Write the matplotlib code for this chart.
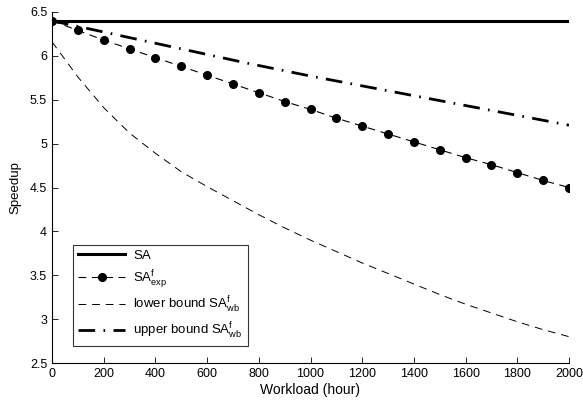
import numpy as np
import matplotlib
matplotlib.use('Agg')
import matplotlib.pyplot as plt

plt.rcParams['font.family'] = ['Liberation Sans', 'DejaVu Sans']
plt.rcParams['mathtext.default'] = 'regular'
plt.rcParams['font.size'] = 9

# workload (hour)
workload = [0, 100, 200, 300, 400, 500, 600, 700, 800, 900, 1000,
            1100, 1200, 1300, 1400, 1500, 1600, 1700, 1800, 1900, 2000]

sa = [6.40] * len(workload)

sa_exp = [6.40, 6.29, 6.18, 6.08, 5.98, 5.88, 5.78, 5.68, 5.58, 5.48, 5.39,
          5.29, 5.20, 5.11, 5.02, 4.93, 4.84, 4.76, 4.67, 4.58, 4.50]

lower_wb = [6.16, 5.76, 5.41, 5.12, 4.89, 4.68, 4.51, 4.35, 4.19, 4.04, 3.90,
            3.77, 3.64, 3.52, 3.40, 3.28, 3.17, 3.07, 2.97, 2.88, 2.80]

upper_x = [0, 250, 500, 750, 1000, 1250, 1500, 1750, 2000]
upper_wb = [6.40, 6.24, 6.08, 5.92, 5.77, 5.63, 5.49, 5.35, 5.21]

fig = plt.figure(figsize=(5.83, 4.03), dpi=100)
ax = fig.add_axes([52 / 583, 1 - 363 / 403, 517 / 583, 351 / 403])

ax.plot(workload, sa, color='k', lw=2.2, label='SA')
ax.plot(workload, sa_exp, color='k', lw=0.8, ls=(0, (7, 5)), marker='o',
        ms=5.5, label='SA$^f_{exp}$')
ax.plot(workload, lower_wb, color='k', lw=0.7, ls=(0, (8, 6)),
        label='lower bound SA$^f_{wb}$')
ax.plot(upper_x, upper_wb, color='k', lw=2.0, ls=(0, (6, 3, 0.6, 3)),
        label='upper bound SA$^f_{wb}$')

ax.set_xlim(0, 2000)
ax.set_ylim(2.5, 6.5)
ax.set_xticks(np.arange(0, 2001, 200))
ax.set_yticks(np.arange(2.5, 6.51, 0.5))
ax.set_yticklabels(['2.5', '3', '3.5', '4', '4.5', '5', '5.5', '6', '6.5'])
ax.tick_params(direction='in', length=4, width=0.6, labelsize=9)
ax.spines['top'].set_visible(False)
ax.spines['right'].set_visible(False)
ax.spines['left'].set_linewidth(0.8)
ax.spines['bottom'].set_linewidth(0.8)

ax.set_xlabel('Workload (hour)', fontsize=10, labelpad=2)
ax.set_ylabel('Speedup', fontsize=9.5, labelpad=6)

leg = ax.legend(loc='lower left', bbox_to_anchor=(0.04, 0.048), fontsize=9.5,
                frameon=True, fancybox=False, edgecolor='k', handlelength=3.6,
                handletextpad=0.6, borderpad=0.4, labelspacing=0.42,
                borderaxespad=0)
leg.get_frame().set_linewidth(0.8)

fig.savefig('out.png', dpi=100)
